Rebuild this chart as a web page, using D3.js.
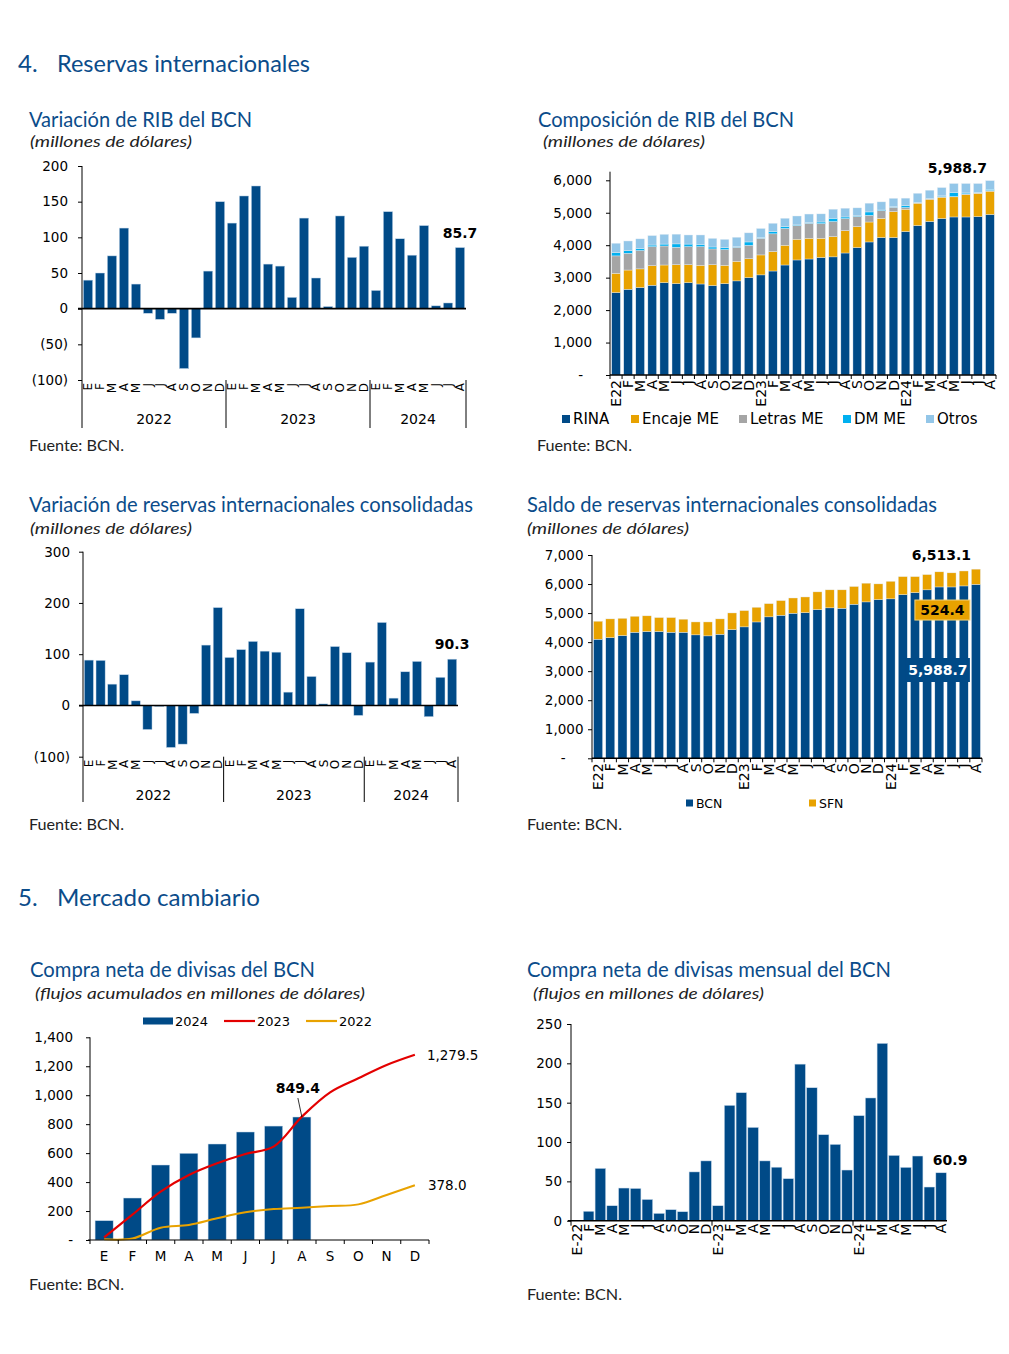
<!DOCTYPE html>
<html>
<head>
<meta charset="utf-8">
<script src="https://cdn.jsdelivr.net/npm/d3@7"></script>
<style>
  body { margin: 0; background: #fff; }
  text { font-family: "DejaVu Sans", Verdana, sans-serif; }
  .hd  { font-family: Lato, "Noto Sans", sans-serif; fill: #0b4c8a; }
  .sub { font-family: Lato, "Noto Sans", sans-serif; font-style: italic; fill: #222; }
  .src { font-family: Lato, "Noto Sans", sans-serif; fill: #222; }
</style>
</head>
<body>
<svg id="page" width="1009" height="1354"></svg>
<script>
// ---- data ----
var mesesLetra = ["E","F","M","A","M","J","J","A","S","O","N","D",
                  "E","F","M","A","M","J","J","A","S","O","N","D",
                  "E","F","M","A","M","J","J","A"];
var grupos = [{year: "2022", n: 12}, {year: "2023", n: 12}, {year: "2024", n: 8}];
var mesesRib = ["E22","F","M","A","M","J","J","A","S","O","N","D",
                "E23","F","M","A","M","J","J","A","S","O","N","D",
                "E24","F","M","A","M","J","J","A"];
var mesesCompra = ["E-22","F","M","A","M","J","J","A","S","O","N","D",
                   "E-23","F","M","A","M","J","J","A","S","O","N","D",
                   "E-24","F","M","A","M","J","J","A"];
var mesesAnio = ["E","F","M","A","M","J","J","A","S","O","N","D"];

// Variación de RIB del BCN
var ribVar = [40, 50, 74, 113, 34.5, -6.5, -15, -6.5, -84, -41, 52.7, 150,
              120, 158, 172, 62.5, 59.7, 15.9, 127, 43, 3, 130, 72, 87.6,
              25.6, 136, 98, 75, 116.5, 4, 8, 85.7];

// Composición de RIB del BCN
var rina   = [2540, 2640, 2695, 2765, 2845, 2815, 2845, 2805, 2755, 2815, 2900, 3000,
              3085, 3205, 3390, 3545, 3575, 3620, 3640, 3760, 3925, 4100, 4235, 4235,
              4420, 4605, 4730, 4820, 4870, 4870, 4880, 4945];
var encaje = [595, 595, 575, 605, 545, 585, 555, 575, 645, 565, 605, 585,
              615, 600, 610, 640, 640, 595, 625, 690, 650, 615, 595, 800,
              690, 690, 685, 660, 620, 690, 720, 720];
var letras = [535, 515, 565, 585, 585, 535, 555, 575, 485, 485, 430, 410,
              515, 545, 515, 420, 460, 450, 465, 370, 310, 205, 235, 135,
              50, 20, 20, 20, 10, 20, 10, 20];
var dmMe   = [105, 80, 60, 50, 60, 105, 80, 70, 60, 60, 20, 105,
              20, 70, 60, 20, 20, 50, 100, 50, 20, 105, 20, 20,
              60, 10, 10, 20, 125, 30, 20, 40];
var otros  = [285, 300, 300, 290, 300, 300, 280, 290, 265, 255, 290, 280,
              280, 255, 255, 275, 265, 250, 280, 270, 245, 270, 250, 255,
              230, 275, 250, 255, 275, 290, 270, 263.7];

// Variación de reservas internacionales consolidadas
var consVar = [88.5, 88, 41.6, 60, 9, -47, -2, -82, -75.5, -15.6, 117.8, 191,
               93.7, 109, 125, 106, 104, 26, 188.7, 56.6, 3, 115, 103, -19.5,
               84.6, 162, 14.3, 65.7, 86, -22, 55, 90.3];

// Saldo de reservas internacionales consolidadas
var saldoBcn = [4100, 4155, 4225, 4340, 4365, 4365, 4340, 4340, 4250, 4215, 4270, 4430,
                4525, 4695, 4870, 4925, 4995, 5015, 5120, 5180, 5165, 5305, 5385, 5465,
                5490, 5635, 5705, 5800, 5900, 5900, 5935, 5988.7];
var saldoSfn = [620, 645, 595, 550, 540, 480, 505, 450, 445, 480, 530, 575,
                560, 505, 455, 505, 525, 540, 610, 620, 635, 610, 645, 540,
                605, 620, 550, 525, 520, 485, 515, 524.4];

// Compra neta de divisas (acumulado)
var compra2024 = [133.5, 290, 518, 599, 663, 746, 787, 849.4];
var compra2023 = [18, 175, 334, 449, 530, 594, 645, 852, 1020, 1117, 1209, 1279.5];
var compra2022 = [5, 10, 85, 104, 150, 191, 214, 223, 235, 246, 311, 378.0];

// Compra neta mensual
var compraMensual = [0, 12, 66.5, 19, 41.5, 41, 27, 9.3, 14, 11.4, 62, 76,
                     19, 146.6, 162.7, 118.6, 76, 68, 53.4, 199, 169, 109.3, 97, 64.4,
                     133.5, 156, 225.4, 83, 67.8, 82.2, 42.8, 60.9];

var NAVY = "#004a87", GOLD = "#e8a200", GRAY = "#a5a5a5", CYAN = "#00b0f0",
    LIGHT = "#93c6e8", RED = "#e30000", EDGE = "#c9dced";
var FONT = "DejaVu Sans, Verdana, sans-serif";

var svg = d3.select("#page");

function fmtParen(d){ return d < 0 ? "(" + Math.abs(d) + ")" : String(d); }
function fmtDash(d){ return d === 0 ? "-" : d3.format(",")(d); }

function text(cls, x, y, txt, size, len){
  var t = svg.append("text").attr("class", cls).attr("x", x).attr("y", y)
    .style("font-size", size + "px").text(txt);
  if (len) t.attr("textLength", len).attr("lengthAdjust", "spacingAndGlyphs");
  return t;
}

function yAxis(g, x0, y, ticks, fmt, pad, zeroDx){
  var a = g.append("g").attr("transform", "translate(" + x0 + ",0)")
    .call(d3.axisLeft(y).tickValues(ticks).tickFormat(fmt).tickSize(4).tickPadding(pad));
  a.attr("font-family", FONT).attr("font-size", 13.5);
  a.select(".domain").remove();
  a.selectAll(".tick line").attr("stroke", "#000");
  a.selectAll(".tick text").attr("fill", "#000")
    .attr("dx", function(d){ return d === 0 && zeroDx ? zeroDx : 0; });
  return a;
}

function vline(g, x, y1, y2, w){
  g.append("line").attr("x1", x).attr("x2", x).attr("y1", y1).attr("y2", y2)
    .attr("stroke", "#000").attr("stroke-width", w || 1);
}
function hline(g, x1, x2, y, w){
  g.append("line").attr("x1", x1).attr("x2", x2).attr("y1", y).attr("y2", y)
    .attr("stroke", "#000").attr("stroke-width", w || 1);
}

function bold(g, x, y, txt, anchor){
  return g.append("text").attr("x", x).attr("y", y).attr("text-anchor", anchor || "middle")
    .style("font-size", "14px").style("font-weight", "bold").text(txt);
}

// ---- bar chart with negatives and year groups (charts 1 and 3) ----
function chartVariacion(cfg){
  var g = svg.append("g");
  var n = cfg.values.length;
  var x = d3.scaleBand().domain(d3.range(n)).range([cfg.x0, cfg.x1])
    .paddingInner(0.22).paddingOuter(0.11);
  var y = d3.scaleLinear().domain(cfg.dom).range([cfg.yBottom, cfg.yTop]);

  g.selectAll("rect").data(cfg.values).enter().append("rect")
    .attr("x", function(d, i){ return x(i); })
    .attr("width", x.bandwidth())
    .attr("y", function(d){ return y(Math.max(0, d)); })
    .attr("height", function(d){ return Math.abs(y(d) - y(0)); })
    .attr("fill", NAVY).attr("stroke", EDGE).attr("stroke-width", 0.5);

  yAxis(g, cfg.x0, y, cfg.ticks, fmtParen, cfg.pad);
  vline(g, cfg.x0, cfg.yTop, cfg.yExt);
  hline(g, cfg.x0 - 4, cfg.x1, y(0), 1.6);

  g.selectAll("text.cat").data(cfg.cats).enter().append("text")
    .attr("class", "cat")
    .attr("transform", function(d, i){
      return "translate(" + (x(i) + x.bandwidth() / 2) + "," + (cfg.yBottom + 3) + ") rotate(-90)";
    })
    .attr("text-anchor", "end").attr("dy", "0.36em")
    .style("font-size", "12px").text(function(d){ return d; });

  var step = x.step(), k = 0;
  grupos.forEach(function(gr){
    var a = cfg.x0 + k * step, b = cfg.x0 + (k + gr.n) * step;
    vline(g, b, cfg.yBottom, cfg.yExt);
    g.append("text").attr("x", (a + b) / 2).attr("y", cfg.yYear).attr("text-anchor", "middle")
      .style("font-size", "14px").text(gr.year);
    k += gr.n;
  });

  var last = n - 1;
  bold(g, x(last) + x.bandwidth() / 2, y(cfg.values[last]) - 10, cfg.label);
}

// ---- stacked bars (charts 2 and 4) ----
function chartStack(cfg){
  var g = svg.append("g");
  var n = cfg.cats.length;
  var rows = d3.range(n).map(function(i){
    var o = {};
    cfg.keys.forEach(function(k, j){ o[k] = cfg.series[j][i]; });
    return o;
  });
  var layers = d3.stack().keys(cfg.keys)(rows);
  var x = d3.scaleBand().domain(d3.range(n)).range([cfg.x0, cfg.x1])
    .paddingInner(cfg.padding).paddingOuter(cfg.padding / 2);
  var y = d3.scaleLinear().domain(cfg.dom).range([cfg.yBottom, cfg.yTop]);

  g.selectAll("g.layer").data(layers).enter().append("g")
    .attr("fill", function(d, j){ return cfg.colors[j]; })
    .selectAll("rect").data(function(d){ return d; }).enter().append("rect")
    .attr("x", function(d, i){ return x(i); })
    .attr("width", x.bandwidth())
    .attr("y", function(d){ return y(d[1]); })
    .attr("height", function(d){ return Math.max(0, y(d[0]) - y(d[1])); })
    .attr("stroke", "#e6eef5").attr("stroke-width", 0.4);

  yAxis(g, cfg.x0, y, d3.range(0, cfg.tickMax + 1, 1000), fmtDash, cfg.pad, cfg.zeroDx);
  vline(g, cfg.x0, cfg.yTop, cfg.yBottom);
  hline(g, cfg.x0, cfg.x1, cfg.yBottom, 1.4);
  var step = x.step();
  d3.range(n + 1).forEach(function(k){
    vline(g, cfg.x0 + k * step, cfg.yBottom, cfg.yBottom + 4);
  });

  g.selectAll("text.cat").data(cfg.cats).enter().append("text")
    .attr("transform", function(d, i){
      return "translate(" + (x(i) + x.bandwidth() / 2) + "," + (cfg.yBottom + 5) + ") rotate(-90)";
    })
    .attr("text-anchor", "end").attr("dy", "0.36em")
    .style("font-size", "14px").text(function(d){ return d; });

  var lg = g.selectAll("g.lg").data(cfg.keys).enter().append("g")
    .attr("transform", function(d, j){ return "translate(" + cfg.legendX[j] + "," + cfg.legendY + ")"; });
  lg.append("rect").attr("x", 0).attr("y", -cfg.sw / 2).attr("width", cfg.sw).attr("height", cfg.sw)
    .attr("fill", function(d, j){ return cfg.colors[j]; });
  lg.append("text").attr("x", cfg.sw + 3).attr("dy", "0.36em")
    .style("font-size", cfg.legendSize + "px").text(function(d){ return d; });

  return {g: g, x: x, y: y, last: n - 1, total: layers[layers.length - 1][n - 1][1]};
}

// ---- headings ----
text("hd", 18, 72, "4.", 24);
text("hd", 57, 72, "Reservas internacionales", 24, 253);
text("hd", 18, 906, "5.", 24);
text("hd", 57, 906, "Mercado cambiario", 24, 203);

text("hd", 29, 127, "Variación de RIB del BCN", 21, 223);
text("sub", 30, 147, "(millones de dólares)", 16, 162);
text("src", 29, 451, "Fuente: BCN.", 15, 95);

text("hd", 538, 127, "Composición de RIB del BCN", 21, 256);
text("sub", 543, 147, "(millones de dólares)", 16, 162);
text("src", 537, 451, "Fuente: BCN.", 15, 95);

text("hd", 29, 512, "Variación de reservas internacionales consolidadas", 21, 444);
text("sub", 30, 534, "(millones de dólares)", 16, 162);
text("src", 29, 830, "Fuente: BCN.", 15, 95);

text("hd", 527, 512, "Saldo de reservas internacionales consolidadas", 21, 410);
text("sub", 527, 534, "(millones de dólares)", 16, 162);
text("src", 527, 830, "Fuente: BCN.", 15, 95);

text("hd", 30, 977, "Compra neta de divisas del BCN", 21, 285);
text("sub", 35, 999, "(flujos acumulados en millones de dólares)", 16, 330);
text("src", 29, 1290, "Fuente: BCN.", 15, 95);

text("hd", 527, 977, "Compra neta de divisas mensual del BCN", 21, 364);
text("sub", 533, 999, "(flujos en millones de dólares)", 16, 231);
text("src", 527, 1300, "Fuente: BCN.", 15, 95);

// ---- chart 1 ----
chartVariacion({
  values: ribVar, cats: mesesLetra, label: "85.7",
  x0: 82, x1: 466, yTop: 166, yBottom: 380, yExt: 428, yYear: 424,
  dom: [-100, 200], ticks: [-100, -50, 0, 50, 100, 150, 200], pad: 10
});

// ---- chart 3 ----
chartVariacion({
  values: consVar, cats: mesesLetra, label: "90.3",
  x0: 83, x1: 458, yTop: 551.7, yBottom: 756.7, yExt: 802, yYear: 800,
  dom: [-100, 300], ticks: [-100, 0, 100, 200, 300], pad: 9
});

// ---- chart 2 ----
var c2 = chartStack({
  cats: mesesRib, keys: ["RINA", "Encaje ME", "Letras ME", "DM ME", "Otros"],
  series: [rina, encaje, letras, dmMe, otros],
  colors: [NAVY, GOLD, GRAY, CYAN, LIGHT],
  x0: 610, x1: 996, yTop: 171.7, yBottom: 375, dom: [0, 6265], tickMax: 6000,
  padding: 0.28, pad: 14, zeroDx: -9,
  legendX: [562, 631, 739, 843, 926], legendY: 419, sw: 8, legendSize: 15
});
bold(c2.g, 987, 173, d3.format(",.1f")(c2.total), "end");

// ---- chart 4 ----
var c4 = chartStack({
  cats: mesesRib, keys: ["BCN", "SFN"],
  series: [saldoBcn, saldoSfn],
  colors: [NAVY, GOLD],
  x0: 592, x1: 982, yTop: 555, yBottom: 758.3, dom: [0, 7000], tickMax: 7000,
  padding: 0.26, pad: 4.5, zeroDx: -18,
  legendX: [686, 809], legendY: 803, sw: 7, legendSize: 12.5
});
bold(c4.g, 971, 560, d3.format(",.1f")(c4.total), "end");
(function(){
  var g = c4.g, xr = c4.x(c4.last) - 1.5;
  var sfnLast = saldoSfn[c4.last], bcnLast = saldoBcn[c4.last];
  var yS = c4.y(5105), yB = c4.y(3040);
  g.append("rect").attr("x", xr - 55).attr("y", yS - 10).attr("width", 55).attr("height", 20)
    .attr("fill", GOLD).attr("stroke", "#f3d27a").attr("stroke-width", 1);
  bold(g, xr - 27.5, yS + 5, d3.format(",.1f")(sfnLast)).attr("fill", "#000");
  g.append("rect").attr("x", xr - 64).attr("y", yB - 12).attr("width", 64).attr("height", 24)
    .attr("fill", NAVY);
  bold(g, xr - 32, yB + 5, d3.format(",.1f")(bcnLast)).attr("fill", "#fff");
})();

// ---- chart 5 ----
(function(){
  var g = svg.append("g");
  var x0 = 90, x1 = 429, yB = 1240, yT = 1037.3;
  var x = d3.scaleBand().domain(d3.range(12)).range([x0, x1]).paddingInner(0.36).paddingOuter(0.18);
  var y = d3.scaleLinear().domain([0, 1400]).range([yB, yT]);
  var cx = function(i){ return x(i) + x.bandwidth() / 2; };

  g.selectAll("rect").data(compra2024).enter().append("rect")
    .attr("x", function(d, i){ return x(i); }).attr("width", x.bandwidth())
    .attr("y", function(d){ return y(d); }).attr("height", function(d){ return yB - y(d); })
    .attr("fill", NAVY).attr("stroke", EDGE).attr("stroke-width", 0.5);

  var line = d3.line().x(function(d, i){ return cx(i); }).y(function(d){ return y(d); })
    .curve(d3.curveCatmullRom.alpha(0.5));
  g.append("path").datum(compra2022).attr("d", line).attr("fill", "none")
    .attr("stroke", GOLD).attr("stroke-width", 2);
  g.append("path").datum(compra2023).attr("d", line).attr("fill", "none")
    .attr("stroke", RED).attr("stroke-width", 2.2);

  yAxis(g, x0, y, d3.range(0, 1401, 200), fmtDash, 13);
  vline(g, x0, yT, yB);
  hline(g, x0 - 2, x1, yB, 1.2);
  var step = x.step();
  d3.range(13).forEach(function(k){ vline(g, x0 + k * step, yB, yB + 4); });
  g.selectAll("text.cat").data(mesesAnio).enter().append("text")
    .attr("x", function(d, i){ return cx(i); }).attr("y", 1261).attr("text-anchor", "middle")
    .style("font-size", "13.5px").text(function(d){ return d; });

  // annotations
  var ia = compra2024.length - 1, va = compra2024[ia];
  g.append("line").attr("x1", cx(ia) - 4).attr("y1", y(va) - 19).attr("x2", cx(ia)).attr("y2", y(va))
    .attr("stroke", "#000").attr("stroke-width", 0.8);
  bold(g, cx(ia) - 4, y(va) - 24, d3.format(".1f")(va));
  g.append("text").attr("x", cx(11) + 12).attr("y", y(compra2023[11]) + 5)
    .style("font-size", "13.5px").text(d3.format(",.1f")(compra2023[11]));
  g.append("text").attr("x", cx(11) + 13).attr("y", y(compra2022[11]) + 5)
    .style("font-size", "13.5px").text(d3.format(",.1f")(compra2022[11]));

  // legend
  var ly = 1021;
  g.append("rect").attr("x", 143).attr("y", ly - 3.5).attr("width", 30).attr("height", 7).attr("fill", NAVY);
  g.append("text").attr("x", 175).attr("y", ly).attr("dy", "0.36em").style("font-size", "13px").text("2024");
  g.append("line").attr("x1", 224).attr("x2", 255).attr("y1", ly).attr("y2", ly).attr("stroke", RED).attr("stroke-width", 2.2);
  g.append("text").attr("x", 257).attr("y", ly).attr("dy", "0.36em").style("font-size", "13px").text("2023");
  g.append("line").attr("x1", 306).attr("x2", 337).attr("y1", ly).attr("y2", ly).attr("stroke", GOLD).attr("stroke-width", 2.2);
  g.append("text").attr("x", 339).attr("y", ly).attr("dy", "0.36em").style("font-size", "13px").text("2022");
})();

// ---- chart 6 ----
(function(){
  var g = svg.append("g");
  var x0 = 571, x1 = 947, yB = 1220.7, yT = 1024;
  var n = compraMensual.length;
  var x = d3.scaleBand().domain(d3.range(n)).range([x0, x1]).paddingInner(0.1).paddingOuter(0.05);
  var y = d3.scaleLinear().domain([0, 250]).range([yB, yT]);

  g.selectAll("rect").data(compraMensual).enter().append("rect")
    .attr("x", function(d, i){ return x(i); }).attr("width", x.bandwidth())
    .attr("y", function(d){ return y(d); }).attr("height", function(d){ return yB - y(d); })
    .attr("fill", NAVY).attr("stroke", EDGE).attr("stroke-width", 0.5);

  yAxis(g, x0, y, d3.range(0, 251, 50), String, 5);
  vline(g, x0, yT, yB);
  hline(g, x0 - 3, x1, yB, 1.4);
  var step = x.step();
  [0, 12, 24].forEach(function(k){ vline(g, x0 + k * step, yB, yB + 5); });

  g.selectAll("text.cat").data(mesesCompra).enter().append("text")
    .attr("transform", function(d, i){
      return "translate(" + (x(i) + x.bandwidth() / 2) + "," + (yB + 3) + ") rotate(-90)";
    })
    .attr("text-anchor", "end").attr("dy", "0.36em")
    .style("font-size", "14px").text(function(d){ return d; });

  var last = n - 1;
  bold(g, x(last) - 3, y(compraMensual[last]) - 8, d3.format(".1f")(compraMensual[last]), "start");
})();
</script>
</body>
</html>
